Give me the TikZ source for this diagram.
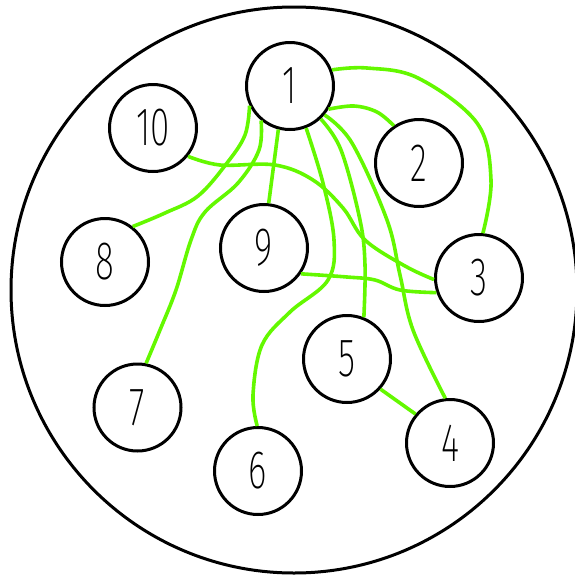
\documentclass[tikz,border=0pt]{standalone}
\usepackage{fontspec}
\newfontfamily\digfont{Fira Sans ExtraLight}[FakeStretch=0.65]
\definecolor{wirecol}{RGB}{100,248,0}
\begin{document}
\begin{tikzpicture}[x=1pt,y=-1pt,
  pin/.style={circle,draw,line width=3pt,minimum size=87pt,inner sep=0pt,
    font=\digfont\fontsize{54}{54}\selectfont},
  wire/.style={draw=wirecol,line width=3.6pt},
  sm/.style={smooth,tension=0.6}]
\useasboundingbox (0,0) rectangle (575,579);
\draw[line width=3pt] (294,290) circle[radius=283];
\node[pin] (n1) at (290,86) {1};
\node[pin] (n2) at (419,163) {2};
\node[pin] (n3) at (479,278) {3};
\node[pin] (n4) at (450,443) {4};
\node[pin] (n5) at (347,359) {5};
\node[pin] (n6) at (258,471) {6};
\node[pin] (n7) at (137.5,407.5) {7};
\node[pin] (n8) at (105,262) {8};
\node[pin] (n9) at (264,248) {9};
\node[pin] (n10) at (153,128) {10};
% 1-3
\draw[wire] plot[sm] coordinates {(n1.21) (367,68) (418,78) (477,123) (491,180) (n3.85)};
% 1-2
\draw[wire] plot[sm] coordinates {(n1.-31) (354,106) (377,112) (n2.124)};
% 1-8
\draw[wire] plot[sm] coordinates {(n1.206) (245,135) (227,163) (198,196) (165,213) (n8.52)};
% 1-7
\draw[wire] plot[sm] coordinates {(n1.230) (259,150) (238,183) (205,212) (191,240) (176,290) (160,330) (n7.79)};
% 1-9
\draw[wire] (n1.255) -- (n9.84);
% 1-6
\draw[wire] plot[sm] coordinates {(n1.-69) (323,183) (334,240) (328,280) (290,312) (262,345) (253,395) (n6.91)};
% 1-5
\draw[wire] plot[sm] coordinates {(n1.-47) (341,150) (360,220) (365,265) (n5.68)};
% 1-4
\draw[wire] plot[sm] coordinates {(n1.-40) (352,143) (387,220) (400,275) (413,330) (n4.96)};
% 10-3
\draw[wire] plot[sm] coordinates {(n10.-39) (220,165) (275,165) (313,180) (343,208) (365,240) (405,266) (n3.182)};
% 9-3
\draw[wire] plot[sm] coordinates {(n9.-35) (347,277) (375,280) (400,290) (n3.199)};
% 5-4
\draw[wire] (n5.-42) -- (n4.140);
\end{tikzpicture}
\end{document}
